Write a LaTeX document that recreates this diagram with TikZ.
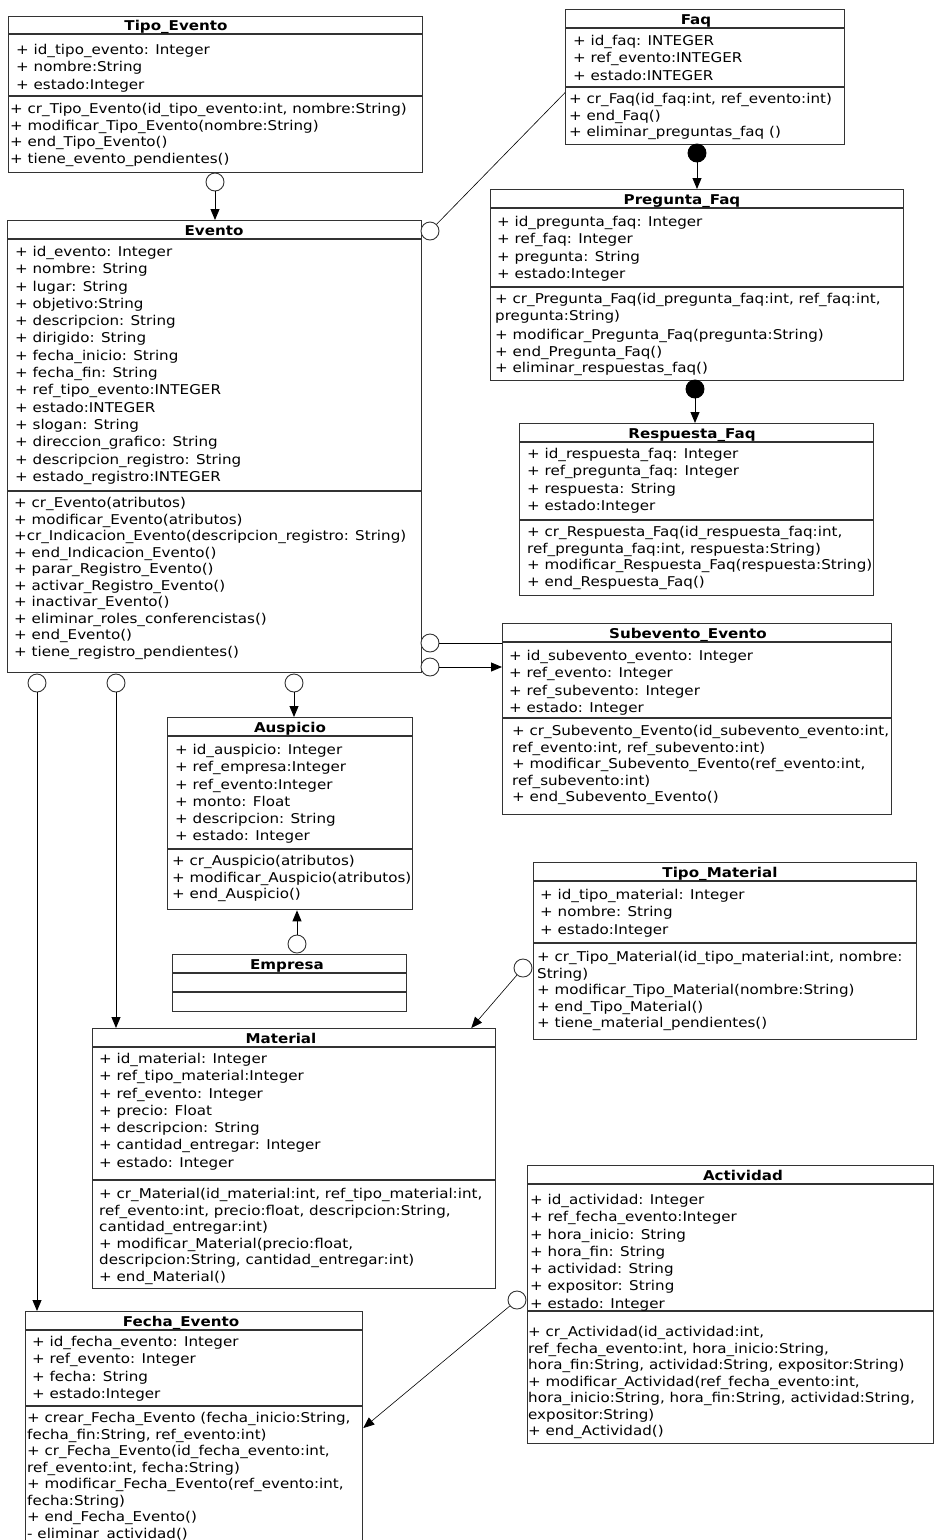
\documentclass[tikz,border=0pt]{standalone}
\usepackage{fontspec}
\setmainfont{DejaVu Sans}[FakeStretch=1.12]
\usetikzlibrary{calc,arrows.meta,positioning}

\begin{document}
\begin{tikzpicture}[x=1pt, y=-1pt]

\tikzset{
clase/.style={draw=black!80, line width=1.3pt, anchor=north west, inner sep=0pt},
separador/.style={draw=black!80, line width=1.1pt},
titulo/.style={anchor=base, inner sep=0pt, font=\bfseries\fontsize{13.5}{16}\selectfont},
atributos/.style={anchor=north west, inner sep=0pt, yshift=-3pt, align=left, font=\fontsize{13.5}{17.3}\selectfont, execute at begin node=\strut},
metodos/.style={atributos, font=\fontsize{13.5}{16.5}\selectfont},
conector/.style={draw=black, line width=0.9pt},
hereda/.style={conector, ->, >={Triangle[length=11pt,width=9pt]}},
bola/.style={circle, draw=black!80, fill=white, line width=0.9pt, minimum size=18pt, inner sep=0pt},
bolallena/.style={bola, fill=black, draw=black}
}

% Page
\clip (0,0) rectangle (934,1540);
\fill[white] (0,0) rectangle (934,1540);

% Tipo_Evento
\node[clase, minimum width=414pt, minimum height=156pt] (tipoevento) at (8,16) {};
\draw[separador] (8,34) -- (422,34);
\draw[separador] (8,96) -- (422,96);
\node[titulo] (tTipoEvento) at (176,30) {Tipo\_Evento};
\node[atributos] (aTipoEvento) at (16,41) {+ id\_tipo\_evento: Integer\\+ nombre:String\\+ estado:Integer};
\node[metodos] (mTipoEvento) at (10,100.5) {+ cr\_Tipo\_Evento(id\_tipo\_evento:int, nombre:String)\\+ modificar\_Tipo\_Evento(nombre:String)\\+ end\_Tipo\_Evento()\\+ tiene\_evento\_pendientes()};

% Faq
\node[clase, minimum width=279pt, minimum height=135pt] (faq) at (565,9) {};
\draw[separador] (565,28) -- (844,28);
\draw[separador] (565,87) -- (844,87);
\node[titulo] (tFaq) at (696,24) {Faq};
\node[atributos] (aFaq) at (573,32) {+ id\_faq: INTEGER\\+ ref\_evento:INTEGER\\+ estado:INTEGER};
\node[metodos] (mFaq) at (569,90.5) {+ cr\_Faq(id\_faq:int, ref\_evento:int)\\+ end\_Faq()\\+ eliminar\_preguntas\_faq ()};

% Pregunta_Faq
\node[clase, minimum width=413pt, minimum height=191pt] (preguntafaq) at (490,189) {};
\draw[separador] (490,208) -- (903,208);
\draw[separador] (490,287) -- (903,287);
\node[titulo] (tPreguntaFaq) at (682,204) {Pregunta\_Faq};
\node[atributos] (aPreguntaFaq) at (497,213) {+ id\_pregunta\_faq: Integer\\+ ref\_faq: Integer\\+ pregunta: String\\+ estado:Integer};
\node[metodos] (mPreguntaFaq) at (495,290.5) {+ cr\_Pregunta\_Faq(id\_pregunta\_faq:int, ref\_faq:int,\\pregunta:String)\\[3pt]+ modificar\_Pregunta\_Faq(pregunta:String)\\+ end\_Pregunta\_Faq()\\+ eliminar\_respuestas\_faq()};

% Respuesta_Faq
\node[clase, minimum width=354pt, minimum height=172pt] (respuestafaq) at (519,423) {};
\draw[separador] (519,442) -- (873,442);
\draw[separador] (519,520) -- (873,520);
\node[titulo] (tRespuestaFaq) at (692,438) {Respuesta\_Faq};
\node[atributos] (aRespuestaFaq) at (527,445) {+ id\_respuesta\_faq: Integer\\+ ref\_pregunta\_faq: Integer\\+ respuesta: String\\+ estado:Integer};
\node[metodos] (mRespuestaFaq) at (527,523.5) {+ cr\_Respuesta\_Faq(id\_respuesta\_faq:int,\\ref\_pregunta\_faq:int, respuesta:String)\\+ modificar\_Respuesta\_Faq(respuesta:String)\\+ end\_Respuesta\_Faq()};

% Subevento_Evento
\node[clase, minimum width=389pt, minimum height=191pt] (subevento) at (502,623) {};
\draw[separador] (502,642) -- (891,642);
\draw[separador] (502,718) -- (891,718);
\node[titulo] (tSubevento) at (688,638) {Subevento\_Evento};
\node[atributos] (aSubevento) at (509,647) {+ id\_subevento\_evento: Integer\\+ ref\_evento: Integer\\+ ref\_subevento: Integer\\+ estado: Integer};
\node[metodos] (mSubevento) at (512,722.5) {+ cr\_Subevento\_Evento(id\_subevento\_evento:int,\\ref\_evento:int, ref\_subevento:int)\\+ modificar\_Subevento\_Evento(ref\_evento:int,\\ref\_subevento:int)\\+ end\_Subevento\_Evento()};

% Evento
\node[clase, minimum width=414pt, minimum height=452pt] (evento) at (7,220) {};
\draw[separador] (7,239) -- (421,239);
\draw[separador] (7,491) -- (421,491);
\node[titulo] (tEvento) at (214,235) {Evento};
\node[atributos] (aEvento) at (15,243) {+ id\_evento: Integer\\+ nombre: String\\+ lugar: String\\+ objetivo:String\\+ descripcion: String\\+ dirigido: String\\+ fecha\_inicio: String\\+ fecha\_fin: String\\+ ref\_tipo\_evento:INTEGER\\+ estado:INTEGER\\+ slogan: String\\+ direccion\_grafico: String\\+ descripcion\_registro: String\\+ estado\_registro:INTEGER};
\node[metodos] (mEvento) at (14,494.5) {+ cr\_Evento(atributos)\\+ modificar\_Evento(atributos)\\+cr\_Indicacion\_Evento(descripcion\_registro: String)\\+ end\_Indicacion\_Evento()\\+ parar\_Registro\_Evento()\\+ activar\_Registro\_Evento()\\+ inactivar\_Evento()\\+ eliminar\_roles\_conferencistas()\\+ end\_Evento()\\+ tiene\_registro\_pendientes()};

% Auspicio
\node[clase, minimum width=245pt, minimum height=192pt] (auspicio) at (167,717) {};
\draw[separador] (167,736) -- (412,736);
\draw[separador] (167,849) -- (412,849);
\node[titulo] (tAuspicio) at (290,732) {Auspicio};
\node[atributos] (aAuspicio) at (175,741) {+ id\_auspicio: Integer\\+ ref\_empresa:Integer\\+ ref\_evento:Integer\\+ monto: Float\\+ descripcion: String\\+ estado: Integer};
\node[metodos] (mAuspicio) at (172,852.5) {+ cr\_Auspicio(atributos)\\+ modificar\_Auspicio(atributos)\\+ end\_Auspicio()};

% Empresa
\node[clase, minimum width=234pt, minimum height=57pt] (empresa) at (172,954) {};
\draw[separador] (172,973) -- (406,973);
\draw[separador] (172,992) -- (406,992);
\node[titulo] (tEmpresa) at (287,969) {Empresa};

% Tipo_Material
\node[clase, minimum width=383pt, minimum height=177pt] (tipomaterial) at (533,862) {};
\draw[separador] (533,881) -- (916,881);
\draw[separador] (533,943) -- (916,943);
\node[titulo] (tTipoMaterial) at (720,877) {Tipo\_Material};
\node[atributos] (aTipoMaterial) at (540,886) {+ id\_tipo\_material: Integer\\+ nombre: String\\+ estado:Integer};
\node[metodos] (mTipoMaterial) at (537,948.5) {+ cr\_Tipo\_Material(id\_tipo\_material:int, nombre:\\String)\\+ modificar\_Tipo\_Material(nombre:String)\\+ end\_Tipo\_Material()\\+ tiene\_material\_pendientes()};

% Material
\node[clase, minimum width=403pt, minimum height=260pt] (material) at (92,1028) {};
\draw[separador] (92,1047) -- (495,1047);
\draw[separador] (92,1180) -- (495,1180);
\node[titulo] (tMaterial) at (281,1043) {Material};
\node[atributos] (aMaterial) at (99,1050) {+ id\_material: Integer\\+ ref\_tipo\_material:Integer\\+ ref\_evento: Integer\\+ precio: Float\\+ descripcion: String\\+ cantidad\_entregar: Integer\\+ estado: Integer};
\node[metodos] (mMaterial) at (99,1185.5) {+ cr\_Material(id\_material:int, ref\_tipo\_material:int,\\ref\_evento:int, precio:float, descripcion:String,\\cantidad\_entregar:int)\\+ modificar\_Material(precio:float,\\descripcion:String, cantidad\_entregar:int)\\+ end\_Material()};

% Fecha_Evento
\node[clase, minimum width=337pt, minimum height=250pt] (fechaevento) at (25,1311) {};
\draw[separador] (25,1330) -- (362,1330);
\draw[separador] (25,1406) -- (362,1406);
\node[titulo] (tFechaEvento) at (181,1326) {Fecha\_Evento};
\node[atributos] (aFechaEvento) at (32,1333) {+ id\_fecha\_evento: Integer\\+ ref\_evento: Integer\\+ fecha: String\\+ estado:Integer};
\node[metodos] (mFechaEvento) at (27,1409.5) {+ crear\_Fecha\_Evento (fecha\_inicio:String,\\fecha\_fin:String, ref\_evento:int)\\+ cr\_Fecha\_Evento(id\_fecha\_evento:int,\\ref\_evento:int, fecha:String)\\+ modificar\_Fecha\_Evento(ref\_evento:int,\\fecha:String)\\+ end\_Fecha\_Evento()\\- eliminar\_actividad()};

% Actividad
\node[clase, minimum width=406pt, minimum height=278pt] (actividad) at (527,1165) {};
\draw[separador] (527,1184) -- (933,1184);
\draw[separador] (527,1311) -- (933,1311);
\node[titulo] (tActividad) at (743,1180) {Actividad};
\node[atributos] (aActividad) at (530,1191) {+ id\_actividad: Integer\\+ ref\_fecha\_evento:Integer\\+ hora\_inicio: String\\+ hora\_fin: String\\+ actividad: String\\+ expositor: String\\+ estado: Integer};
\node[metodos] (mActividad) at (528,1323.5) {+ cr\_Actividad(id\_actividad:int,\\ref\_fecha\_evento:int, hora\_inicio:String,\\hora\_fin:String, actividad:String, expositor:String)\\+ modificar\_Actividad(ref\_fecha\_evento:int,\\hora\_inicio:String, hora\_fin:String, actividad:String,\\expositor:String)\\+ end\_Actividad()};

% Ends of the associations
\node[bola] (bTipoEvento) at (215,182) {};
\node[bola] (bFaq) at (430,231) {};
\node[bolallena] (bPreguntaFaq) at (697,153) {};
\node[bolallena] (bRespuestaFaq) at (695,389) {};
\node[bola] (bSubevento1) at (430,643) {};
\node[bola] (bSubevento2) at (430,667) {};
\node[bola] (bAuspicio) at (294,683) {};
\node[bola] (bMaterial) at (116,683) {};
\node[bola] (bFechaEvento) at (37,683) {};
\node[bola] (bEmpresa) at (297,944) {};
\node[bola] (bTipoMaterial) at (523,968) {};
\node[bola] (bActividad) at (517,1300) {};

% Arrows
\draw[hereda] (bTipoEvento) -- (bTipoEvento |- evento.north);
\draw[conector, line width=0.6pt] (bFaq) -- ([yshift=-15.5pt]faq.west);
\draw[hereda] (bPreguntaFaq) -- (bPreguntaFaq |- preguntafaq.north);
\draw[hereda] (bRespuestaFaq) -- (bRespuestaFaq |- respuestafaq.north);
\draw[conector] (bSubevento1) -- (bSubevento1 -| subevento.west);
\draw[hereda] (bSubevento2) -- (bSubevento2 -| subevento.west);
\draw[hereda] (bAuspicio) -- (bAuspicio |- auspicio.north);
\draw[hereda] (bMaterial) -- (bMaterial |- material.north);
\draw[hereda] (bFechaEvento) -- (bFechaEvento |- fechaevento.north);
\draw[hereda] (bEmpresa) -- (bEmpresa |- auspicio.south);
\draw[hereda, line width=0.6pt] (bTipoMaterial) -- ([xshift=-25pt]material.north east);
\draw[hereda, line width=0.6pt] (bActividad) -- ([yshift=-117pt]fechaevento.north east);

\end{tikzpicture}
\end{document}
